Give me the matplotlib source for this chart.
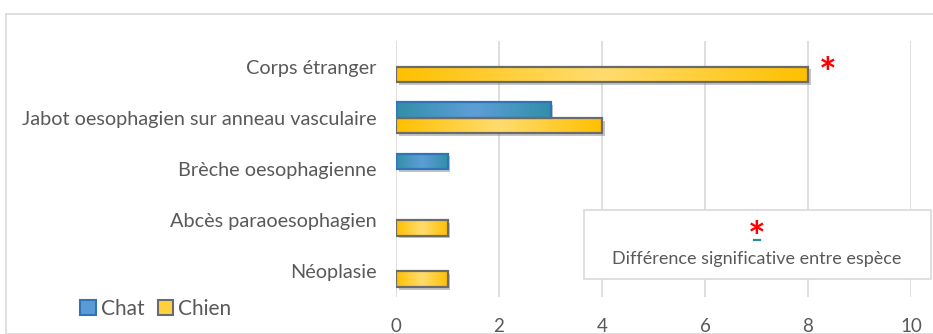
import numpy as np
import matplotlib
matplotlib.use("Agg")
import matplotlib.pyplot as plt
from matplotlib.patches import Patch, Rectangle
from matplotlib.lines import Line2D
from matplotlib.colors import LinearSegmentedColormap
import matplotlib.patheffects as pe

plt.rcParams['font.family'] = ['Lato', 'DejaVu Sans']

categories = ["Corps étranger", "Jabot oesophagien sur anneau vasculaire",
              "Brèche oesophagienne", "Abcès paraoesophagien", "Néoplasie"]
chat = [0, 3, 1, 0, 0]
chien = [8, 4, 0, 1, 1]
series_names = ["Chat", "Chien"]
xticks = [0, 2, 4, 6, 8, 10]
note_text = "Différence significative entre espèce"

TXT = "#595959"
GRID = "#D9D9D9"

fig = plt.figure(figsize=(9.33, 3.34), dpi=100)
fig.patches.append(Rectangle((6 / 933, 0), 1.0, 1 - 14 / 334, transform=fig.transFigure,
                             facecolor="none", edgecolor=GRID, lw=1.2, zorder=0))

ax = fig.add_axes([396 / 933, 1 - 297 / 334, (911 - 396) / 933, (297 - 41) / 334])
ax.set_facecolor("none")

y = np.arange(len(categories))
h = 0.3
cmaps = {
    "Chat": LinearSegmentedColormap.from_list("chat", ["#318FA8", "#5E9ED8", "#318FA8"]),
    "Chien": LinearSegmentedColormap.from_list("chien", ["#FFC000", "#FFDC6E", "#FFC000"]),
}
edges = {"Chat": "#2F74B5", "Chien": "#6B6B6B"}
bases = {"Chat": "#4A97C8", "Chien": "#FFCB30"}
grad = np.linspace(0, 1, 256).reshape(1, -1)

for name, vals, off in [("Chat", chat, -h / 2), ("Chien", chien, h / 2)]:
    base = ax.barh(y + off, vals, height=h, color=bases[name], edgecolor="none", zorder=2)
    for p in base:
        if p.get_width() <= 0:
            continue
        p.set_path_effects([pe.SimplePatchShadow(offset=(2, -2), shadow_rgbFace="#808080", alpha=0.45),
                            pe.Normal()])
        x0, y0 = p.get_x(), p.get_y()
        w, hh = p.get_width(), p.get_height()
        im = ax.imshow(grad, cmap=cmaps[name], aspect="auto", extent=[x0, x0 + w, y0 + hh, y0],
                       zorder=2.5, interpolation="bicubic")
        im.set_clip_path(p)
    outline = ax.barh(y + off, vals, height=h, facecolor="none", edgecolor=edges[name],
                      linewidth=1.6, zorder=3)
    for p in outline:
        if p.get_width() <= 0:
            p.set_visible(False)

ax.set_xlim(0, 10)
ax.set_ylim(len(categories) - 0.5, -0.5)
ax.set_xticks(xticks)
ax.set_yticks(y)
ax.set_yticklabels(categories, fontsize=14.3, color=TXT)
ax.tick_params(axis="x", labelsize=13.5, labelcolor=TXT, length=0, pad=15)
ax.tick_params(axis="y", length=0, pad=14)
ax.grid(axis="x", color=GRID, lw=1.2, zorder=0)
ax.set_axisbelow(True)
for s in ax.spines.values():
    s.set_visible(False)

# significance marker next to the foreign-body bar
ax.annotate("*", xy=(chien[0], 0), xytext=(7.5, -7), textcoords="offset points",
            color="red", fontsize=30, fontweight="bold", ha="left", va="center", zorder=5)

# note box explaining the marker
fig.patches.append(Rectangle((584 / 933, 1 - 279 / 334), (931 - 584) / 933, (279 - 210) / 334,
                             transform=fig.transFigure, facecolor="white", edgecolor=GRID,
                             lw=1.2, zorder=4))
fig.text(757 / 933, 1 - 240 / 334, "*", color="red", fontsize=30, fontweight="bold",
         ha="center", va="center", zorder=5)
fig.lines.append(Line2D([754 / 933, 760 / 933], [1 - 239.5 / 334] * 2, transform=fig.transFigure,
                        color="#2A8C8C", lw=1.6, zorder=6))
fig.text(757 / 933, 1 - 259 / 334, note_text, color=TXT, fontsize=13,
         ha="center", va="center", zorder=5)

handles = [Patch(facecolor="#5B9BD5", edgecolor="#2F74B5", lw=1.5, label=series_names[0]),
           Patch(facecolor="#FFD13F", edgecolor="#6B6B6B", lw=1.5, label=series_names[1])]
fig.legend(handles=handles, loc="center left", bbox_to_anchor=(70 / 933, 1 - 309 / 334),
           ncol=2, frameon=False, fontsize=15, labelcolor=TXT, handlelength=0.75,
           handleheight=0.75, handletextpad=0.22, columnspacing=0.65, borderpad=0)

fig.savefig("out.png", dpi=100)
